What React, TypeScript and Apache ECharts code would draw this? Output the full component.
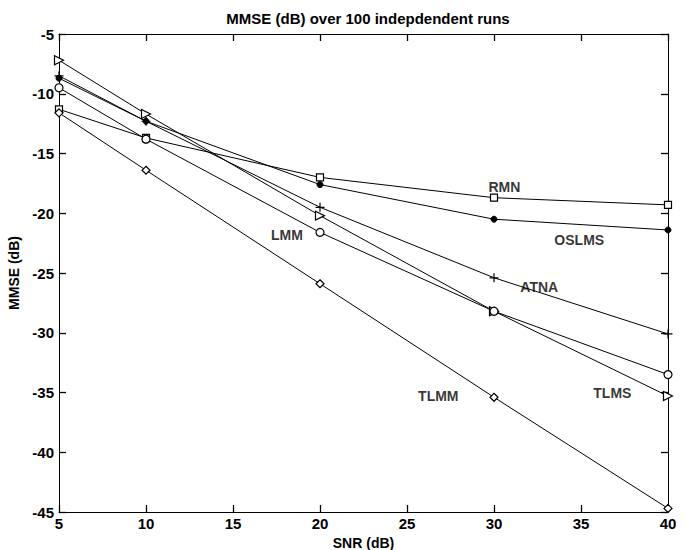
import React, { useEffect, useRef } from "react";
import * as echarts from "echarts";

const snr = [5, 10, 20, 30, 40];
const rmn = [-11.3, -13.7, -17.0, -18.7, -19.3];
const oslms = [-8.7, -12.3, -17.6, -20.5, -21.4];
const atna = [-8.5, -12.3, -19.5, -25.4, -30.1];
const tlms = [-7.2, -11.7, -20.2, -28.2, -35.3];
const lmm = [-9.5, -13.8, -21.6, -28.2, -33.5];
const tlmm = [-11.6, -16.4, -25.9, -35.4, -44.7];

const labelNames = ["RMN", "OSLMS", "ATNA", "LMM", "TLMM", "TLMS"];
const labelX = [30.6, 34.9, 32.6, 18.1, 26.8, 36.8];
const labelY = [-17.8, -22.2, -26.2, -21.8, -35.3, -35.0];

const FONT = "'Liberation Sans', Arial, sans-serif";

export default function App() {
  const ref = useRef<HTMLDivElement>(null);
  useEffect(() => {
    if (!ref.current) return;
    const chart = echarts.init(ref.current, null, { renderer: "svg" });
    const mk = (name: string, data: number[], symbol: string, size: number, extra: any = {}) => ({
      name,
      type: "line",
      xAxisIndex: 0,
      yAxisIndex: 0,
      data: snr.map((x, i) => [x, data[i]]),
      symbol,
      symbolSize: size,
      showAllSymbol: true,
      lineStyle: { color: "#000", width: 1 },
      itemStyle: { color: "#fff", borderColor: "#000", borderWidth: 1.2 },
      z: 3,
      ...extra,
    });
    const tickIn = { show: true, inside: true, length: 7, lineStyle: { color: "#000", width: 1.3 } };
    const lineStyle = { show: true, onZero: false, lineStyle: { color: "#000", width: 1 } };
    const labelStyle = { fontFamily: FONT, fontSize: 15, fontWeight: "bold", color: "#000" };
    const nameStyle = { fontFamily: FONT, fontSize: 14, fontWeight: "bold", color: "#000" };
    chart.setOption({
      animation: false,
      backgroundColor: "#fff",
      title: {
        text: "MMSE (dB) over 100 indepdendent runs",
        left: 363,
        top: 6,
        textAlign: "center",
        textStyle: { fontFamily: FONT, fontSize: 15, fontWeight: "bold", color: "#000" },
      },
      grid: { left: 59, right: 19, top: 34, bottom: 38, containLabel: false, outerBoundsMode: "none" },
      xAxis: [
        {
          type: "value",
          position: "bottom",
          min: 5,
          max: 40,
          interval: 5,
          name: "SNR (dB)",
          nameLocation: "middle",
          nameGap: 17,
          nameTextStyle: nameStyle,
          axisLabel: { ...labelStyle, margin: 4 },
          axisLine: lineStyle,
          axisTick: tickIn,
          splitLine: { show: false },
        },
        {
          type: "value",
          position: "top",
          min: 5,
          max: 40,
          interval: 5,
          axisLabel: { show: false },
          axisLine: lineStyle,
          axisTick: tickIn,
          splitLine: { show: false },
        },
      ],
      yAxis: [
        {
          type: "value",
          position: "left",
          min: -45,
          max: -5,
          interval: 5,
          name: "MMSE (dB)",
          nameLocation: "middle",
          nameGap: 29,
          nameTextStyle: nameStyle,
          axisLabel: { ...labelStyle, margin: 5 },
          axisLine: lineStyle,
          axisTick: tickIn,
          splitLine: { show: false },
        },
        {
          type: "value",
          position: "right",
          min: -45,
          max: -5,
          interval: 5,
          axisLabel: { show: false },
          axisLine: lineStyle,
          axisTick: tickIn,
          splitLine: { show: false },
        },
      ],
      series: [
        mk("RMN", rmn, "rect", 7),
        mk("OSLMS", oslms, "circle", 6, { itemStyle: { color: "#000", borderColor: "#000", borderWidth: 1 } }),
        mk("ATNA", atna, "path://M5,0L5,10M0,5L10,5", 9, { itemStyle: { color: "none", borderColor: "#000", borderWidth: 1.2 } }),
        mk("TLMS", tlms, "triangle", 9, { symbolRotate: -90 }),
        mk("LMM", lmm, "circle", 8),
        mk("TLMM", tlmm, "diamond", 8),
        {
          name: "labels",
          type: "scatter",
          data: labelX.map((x, i) => [x, labelY[i], labelNames[i]]),
          symbolSize: 0,
          z: 4,
          label: {
            show: true,
            position: "inside",
            formatter: (p: any) => p.value[2],
            ...labelStyle,
            fontSize: 14,
          },
        },
      ],
    });
    return () => chart.dispose();
  }, []);
  return <div ref={ref} style={{ width: 687, height: 550, position: "absolute", left: 0, top: 0 }} />;
}
